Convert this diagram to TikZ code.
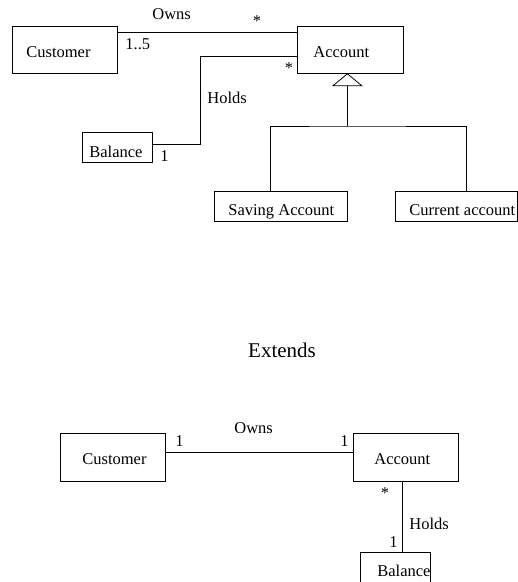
\documentclass[tikz,border=0pt]{standalone}
\usepackage{fontspec}
\setmainfont{Liberation Serif}
\begin{document}
\begin{tikzpicture}[x=1pt,y=-1pt,
  line width=0.8pt,
  umlbox/.style={draw, rectangle, inner sep=0pt, anchor=north west},
  txt/.style={inner sep=0pt, anchor=base west, font=\fontsize{16.5}{19}\selectfont},
  ctxt/.style={inner sep=0pt, anchor=base, font=\fontsize{16.5}{19}\selectfont}]
\useasboundingbox (0,0) rectangle (518,582);

% ---------- class diagram with generalisation ----------
\node[umlbox, minimum width=105pt, minimum height=47pt] (cust) at (12,26) {};
\node[umlbox, minimum width=106pt, minimum height=47pt] (acct) at (297,26) {};
\node[umlbox, minimum width=70pt, minimum height=30pt] (bal) at (82,132) {};
\node[umlbox, minimum width=133pt, minimum height=30pt] (sav) at (214,191) {};
\node[umlbox, minimum width=122pt, minimum height=30pt] (cur) at (395,191) {};

\node[txt] at (26,57) {Customer};
\node[txt] at (313,57) {Account};
\node[txt] at (89,157) {Balance};
\node[txt] at (228,215) {Saving Account};
\node[txt] at (409,215) {Current account};

% associations
\draw ([yshift=-6pt]cust.north east) -- ([yshift=-6pt]acct.north west);
\draw ([yshift=-30pt]acct.north west) -- ++(-97,0) |- ([yshift=-12pt]bal.north east);

\node[txt] at (152,19) {Owns};
\node[ctxt] at (257,26) {*};
\node[txt] at (125,49) {1..5};
\node[ctxt] at (289,73) {*};
\node[txt] at (207,103) {Holds};
\node[txt] at (160,161) {1};

% generalisation
\coordinate (apex) at ([xshift=-3pt]acct.south);
\coordinate (tribase) at (347,85);
\coordinate (fork) at (347,126);
\draw (tribase) -- (fork);
\draw ([xshift=56pt]sav.north west) |- (fork) -| ([xshift=71pt]cur.north west);
\draw[fill=white] (apex) -- ++(-14.5,12) -- ++(29,0) -- cycle;

\node[ctxt, font=\fontsize{21}{25}\selectfont] at (282,357) {Extends};

% ---------- simple association diagram ----------
\node[umlbox, minimum width=105pt, minimum height=48pt] (cust2) at (60,433) {};
\node[umlbox, minimum width=105pt, minimum height=48pt] (acct2) at (353,433) {};
\node[umlbox, minimum width=70pt, minimum height=29.5pt] (bal2) at (360,552) {};

\node[txt] at (82,464) {Customer};
\node[txt] at (374,464) {Account};
\node[txt] at (377,576) {Balance};

\draw ([yshift=-19pt]cust2.north east) -- ([yshift=-19pt]acct2.north west);
\draw ([xshift=49pt]acct2.south west) -- ([xshift=42pt]bal2.north west);

\node[txt] at (175,446) {1};
\node[txt] at (234,433) {Owns};
\node[txt] at (340,446) {1};
\node[ctxt] at (385,498) {*};
\node[txt] at (409,529) {Holds};
\node[txt] at (389,547) {1};
\end{tikzpicture}
\end{document}
